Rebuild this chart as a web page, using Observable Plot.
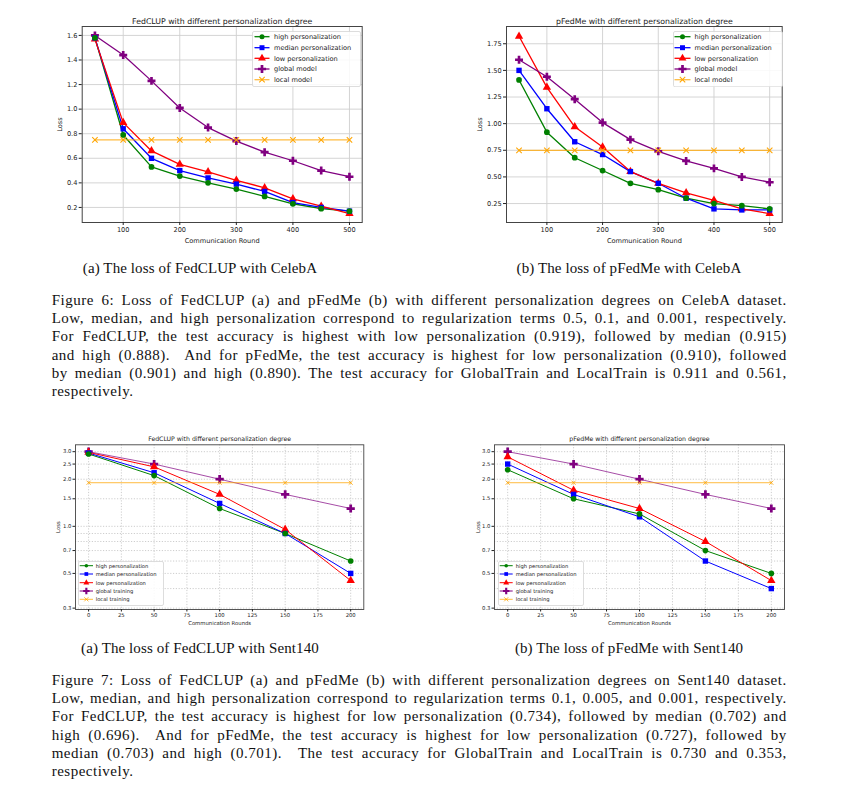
<!DOCTYPE html>
<html><head><meta charset="utf-8">
<script src="https://cdn.jsdelivr.net/npm/d3@7"></script>
<script src="https://cdn.jsdelivr.net/npm/@observablehq/plot@0.6"></script>
<style>
body{margin:0;background:#fff;}
#page{position:relative;width:861px;height:800px;overflow:hidden;background:#fff;}
.chart{position:absolute;}
.cap{position:absolute;left:0;font-family:"Liberation Serif",serif;font-size:15px;line-height:18.3px;color:#111;white-space:pre;}
.legend{position:absolute;}
</style></head><body><div id="page"></div>
<script>
// ---------- data ----------
const roundsCeleb = [50,100,150,200,250,300,350,400,450,500];
const roundsSent = [0,50,100,150,200];

const fedclupCelebHigh   = [1.58,0.79,0.53,0.455,0.40,0.35,0.29,0.23,0.19,0.17];
const fedclupCelebMedian = [1.58,0.84,0.60,0.50,0.44,0.39,0.33,0.24,0.20,0.17];
const fedclupCelebLow    = [1.57,0.89,0.66,0.55,0.49,0.42,0.36,0.27,0.21,0.15];
const fedclupCelebGlobal = [1.60,1.44,1.23,1.01,0.85,0.74,0.65,0.58,0.50,0.45];
const fedclupCelebLocal  = [0.75,0.75,0.75,0.75,0.75,0.75,0.75,0.75,0.75,0.75];

const pfedmeCelebHigh   = [1.41,0.92,0.68,0.56,0.44,0.38,0.30,0.25,0.23,0.20];
const pfedmeCelebMedian = [1.50,1.14,0.83,0.71,0.55,0.44,0.30,0.20,0.19,0.19];
const pfedmeCelebLow    = [1.82,1.34,0.97,0.78,0.55,0.44,0.35,0.28,0.20,0.155];
const pfedmeCelebGlobal = [1.60,1.44,1.23,1.01,0.85,0.74,0.65,0.58,0.50,0.45];
const pfedmeCelebLocal  = [0.75,0.75,0.75,0.75,0.75,0.75,0.75,0.75,0.75,0.75];

const fedclupSentHigh   = [2.90,2.11,1.30,0.90,0.60];
const fedclupSentMedian = [2.94,2.20,1.40,0.90,0.50];
const fedclupSentLow    = [2.97,2.40,1.60,0.955,0.45];
const fedclupSentGlobal = [3.00,2.50,2.00,1.60,1.30];
const fedclupSentLocal  = [1.90,1.90,1.90,1.90,1.90];

const pfedmeSentHigh   = [2.30,1.50,1.20,0.70,0.50];
const pfedmeSentMedian = [2.50,1.60,1.15,0.60,0.40];
const pfedmeSentLow    = [2.78,1.70,1.30,0.80,0.45];
const pfedmeSentGlobal = [3.00,2.50,2.00,1.60,1.30];
const pfedmeSentLocal  = [1.90,1.90,1.90,1.90,1.90];

const celebLabels = ["high personalization","median personalization","low personalization","global model","local model"];
const sentLabels  = ["high personalization","median personalization","low personalization","global training","local training"];
const seriesColors  = ["green","blue","red","purple","orange"];
const seriesSymbols = ["circle","square","triangle","cross","times"];

const celebXTicks = [100,200,300,400,500];
const fedclupCelebYTicks = [0.2,0.4,0.6,0.8,1.0,1.2,1.4,1.6];
const pfedmeCelebYTicks = [0.25,0.5,0.75,1.0,1.25,1.5,1.75];
const sentXTicks = [0,25,50,75,100,125,150,175,200];
const sentYTicks = [0.3,0.5,0.7,1.0,1.5,2.0,2.5,3.0];
const sentYGrid  = [0.3,0.4,0.5,0.6,0.7,0.8,0.9,1.0,1.5,2.0,2.5,3.0];

const chartTitles = ["FedCLUP with different personalization degree","pFedMe with different personalization degree"];

const fig6Sub = ["(a) The loss of FedCLUP with CelebA","(b) The loss of pFedMe with CelebA"];
const fig6Lines = [
 "Figure 6: Loss of FedCLUP (a) and pFedMe (b) with different personalization degrees on CelebA dataset.",
 "Low, median, and high personalization correspond to regularization terms 0.5, 0.1, and 0.001, respectively.",
 "For FedCLUP, the test accuracy is highest with low personalization (0.919), followed by median (0.915)",
 "and high (0.888).  And for pFedMe, the test accuracy is highest for low personalization (0.910), followed",
 "by median (0.901) and high (0.890). The test accuracy for GlobalTrain and LocalTrain is 0.911 and 0.561,",
 "respectively."
];
const fig7Sub = ["(a) The loss of FedCLUP with Sent140","(b) The loss of pFedMe with Sent140"];
const fig7Lines = [
 "Figure 7: Loss of FedCLUP (a) and pFedMe (b) with different personalization degrees on Sent140 dataset.",
 "Low, median, and high personalization correspond to regularization terms 0.1, 0.005, and 0.001, respectively.",
 "For FedCLUP, the test accuracy is highest for low personalization (0.734), followed by median (0.702) and",
 "high (0.696).  And for pFedMe, the test accuracy is highest for low personalization (0.727), followed by",
 "median (0.703) and high (0.701).  The test accuracy for GlobalTrain and LocalTrain is 0.730 and 0.353,",
 "respectively."
];

// ---------- helpers ----------
const page = document.getElementById("page");

function toRows(xs, seriesArr, labels) {
  const rows = [];
  seriesArr.forEach((vals, i) => vals.forEach((v, j) => rows.push({x: xs[j], y: v, s: labels[i]})));
  return rows;
}

function makeChart(cfg) {
  const rows = toRows(cfg.xs, cfg.series, cfg.labels);
  const filled = rows.filter(d => d.s !== cfg.labels[4]);
  const crosses = rows.filter(d => d.s === cfg.labels[4]);
  const dash = cfg.log ? "1.2,1.6" : null;
  const gridColor = cfg.log ? "#b8b8b8" : "#cfcfcf";
  const chart = Plot.plot({
    width: cfg.width, height: cfg.height,
    marginLeft: cfg.ml, marginRight: cfg.mr, marginTop: cfg.mt, marginBottom: cfg.mb,
    style: {fontFamily: "DejaVu Sans", background: "transparent", color: "#222", overflow: "visible"},
    x: {domain: cfg.xDomain},
    y: {type: cfg.log ? "log" : "linear", domain: cfg.yDomain},
    color: {domain: cfg.labels, range: seriesColors},
    symbol: {domain: cfg.labels, range: seriesSymbols},
    marks: [
      Plot.gridX({ticks: cfg.xTicks, stroke: gridColor, strokeOpacity: 1, strokeWidth: cfg.gridW, strokeDasharray: dash}),
      Plot.gridY({ticks: cfg.yGrid, stroke: gridColor, strokeOpacity: 1, strokeWidth: cfg.gridW, strokeDasharray: dash}),
      Plot.line(rows, {x: "x", y: "y", z: "s", stroke: "s", strokeWidth: cfg.lw,
        strokeOpacity: d => d.s === cfg.labels[4] ? 0.75 : (cfg.log && d.s === cfg.labels[3] ? 0.7 : 1)}),
      Plot.dot(filled, {x: "x", y: "y", symbol: "s", fill: "s", r: d => cfg.r[cfg.labels.indexOf(d.s)]}),
      Plot.dot(crosses, {x: "x", y: "y", symbol: "s", stroke: "s", strokeWidth: cfg.lw * 0.8, r: cfg.r[4]}),
      Plot.frame({stroke: "#444", strokeWidth: cfg.frameW}),
      Plot.axisX({ticks: cfg.xTicks, tickFormat: d3.format("d"), tickSize: cfg.tickSize, tickPadding: cfg.tickPad, fontSize: cfg.fs, label: null}),
      Plot.axisY({ticks: cfg.yTicks, tickFormat: d3.format(cfg.yFmt), tickSize: cfg.tickSize, tickPadding: cfg.tickPad, fontSize: cfg.fs, label: null}),
      Plot.text([cfg.title], {text: d => d, frameAnchor: "top", lineAnchor: "middle", dy: cfg.titleDy, fontSize: cfg.tfs, fill: "#222"}),
      Plot.text([cfg.xLabel], {text: d => d, frameAnchor: "bottom", lineAnchor: "middle", dy: cfg.xLabelDy, fontSize: cfg.fs, fill: "#222"}),
      Plot.text(["Loss"], {text: d => d, frameAnchor: "left", lineAnchor: "middle", textAnchor: "middle", dx: cfg.yLabelDx, rotate: -90, fontSize: cfg.fs, fill: "#222"})
    ]
  });
  chart.classList.add("chart");
  chart.style.left = cfg.left + "px";
  chart.style.top = cfg.top + "px";
  page.appendChild(chart);
}

function makeLegend(cfg) {
  const svg = d3.create("svg").attr("class", "legend")
    .attr("width", cfg.w + 1).attr("height", cfg.h + 1)
    .style("left", cfg.left + "px").style("top", cfg.top + "px");
  svg.append("rect").attr("x", 0.5).attr("y", 0.5).attr("width", cfg.w).attr("height", cfg.h)
    .attr("rx", 1.5).attr("fill", "rgba(255,255,255,0.85)").attr("stroke", "#d4d4d4").attr("stroke-width", 0.8);
  const typeMap = {circle: d3.symbolCircle, square: d3.symbolSquare, triangle: d3.symbolTriangle, cross: d3.symbolCross, times: d3.symbolTimes};
  cfg.labels.forEach((lab, i) => {
    const y = cfg.rows[i];
    const g = svg.append("g");
    g.append("line").attr("x1", cfg.sx0).attr("x2", cfg.sx1).attr("y1", y).attr("y2", y)
      .attr("stroke", seriesColors[i]).attr("stroke-width", cfg.lw).attr("stroke-opacity", i === 4 ? 0.75 : 1);
    const size = Math.PI * cfg.r[i] * cfg.r[i];
    const p = g.append("path").attr("d", d3.symbol(typeMap[seriesSymbols[i]], size)())
      .attr("transform", `translate(${(cfg.sx0 + cfg.sx1) / 2},${y})`);
    if (i === 4) p.attr("fill", "none").attr("stroke", seriesColors[i]).attr("stroke-width", cfg.lw * 0.8);
    else p.attr("fill", seriesColors[i]);
    g.append("text").attr("x", cfg.tx).attr("y", y).attr("dy", "0.35em")
      .attr("font-family", "DejaVu Sans").attr("font-size", cfg.fs).attr("fill", "#222").text(lab);
  });
  page.appendChild(svg.node());
}

function addLine(text, x, yCenter, width, align, ls) {
  const el = document.createElement("div");
  el.className = "cap";
  el.textContent = text;
  el.style.top = (yCenter - 9.15) + "px";
  if (ls) el.style.letterSpacing = ls + "px";
  page.appendChild(el);
  const w = el.getBoundingClientRect().width;
  if (align === "justify") {
    const spaces = (text.match(/ /g) || []).length;
    el.style.wordSpacing = ((width - w) / spaces) + "px";
    el.style.left = x + "px";
  } else if (align === "center") {
    el.style.left = (x - w / 2) + "px";
  } else {
    el.style.left = x + "px";
  }
}

// ---------- charts ----------
const topCommon = {width: 0, height: 240, mt: 16, mb: 28, lw: 1.3, r: [2.5, 2.8, 2.9, 3.4, 2.6],
  fs: 6.6, tfs: 7.8, tickSize: 3, tickPad: 1.8, titleDy: -5.5, xLabelDy: 18, gridW: 0.9, frameW: 1,
  xs: roundsCeleb, xDomain: [27.5, 522.5], xTicks: celebXTicks, labels: celebLabels, xLabel: "Communication Round", log: false};

makeChart({...topCommon, left: 30, top: 10, width: 340, ml: 51.7, mr: 8.3,
  series: [fedclupCelebHigh, fedclupCelebMedian, fedclupCelebLow, fedclupCelebGlobal, fedclupCelebLocal],
  yDomain: [0.0775, 1.6725], yTicks: fedclupCelebYTicks, yGrid: fedclupCelebYTicks, yFmt: ".1f",
  title: chartTitles[0], yLabelDx: -22.4});

makeChart({...topCommon, left: 470, top: 10, width: 330, ml: 36, mr: 18.3,
  series: [pfedmeCelebHigh, pfedmeCelebMedian, pfedmeCelebLow, pfedmeCelebGlobal, pfedmeCelebLocal],
  yDomain: [0.072, 1.912], yTicks: pfedmeCelebYTicks, yGrid: pfedmeCelebYTicks, yFmt: ".2f",
  title: chartTitles[1], yLabelDx: -26.7});

const botCommon = {height: 200, mt: 14.3, mb: 21, lw: 1.0, r: [1.8, 2.1, 2.2, 2.7, 2.0],
  fs: 5.3, tfs: 6.2, tickSize: 2.5, tickPad: 1.5, titleDy: -5.3, xLabelDy: 13.3, gridW: 0.7, frameW: 0.9,
  xs: roundsSent, xDomain: [-10, 210], xTicks: sentXTicks, labels: sentLabels, xLabel: "Communication Rounds", log: true,
  yDomain: [0.294, 3.32], yTicks: sentYTicks, yGrid: sentYGrid, yFmt: ".1f"};

makeChart({...botCommon, left: 30, top: 430, width: 340, ml: 45, mr: 6.7,
  series: [fedclupSentHigh, fedclupSentMedian, fedclupSentLow, fedclupSentGlobal, fedclupSentLocal],
  title: chartTitles[0], yLabelDx: -17.7});

makeChart({...botCommon, left: 470, top: 430, width: 320, ml: 24, mr: 6,
  series: [pfedmeSentHigh, pfedmeSentMedian, pfedmeSentLow, pfedmeSentGlobal, pfedmeSentLocal],
  title: chartTitles[1], yLabelDx: -16.7});

// ---------- legends ----------
const topRows = [5.7, 16.7, 27.3, 38, 48.7];
makeLegend({left: 252, top: 31, w: 108, h: 55, rows: topRows, sx0: 2.5, sx1: 17.5, tx: 22, fs: 6.6, lw: 1.3,
  r: [2.5, 2.8, 2.9, 3.4, 2.6], labels: celebLabels});
makeLegend({left: 672.5, top: 30.7, w: 109, h: 55.3, rows: topRows, sx0: 1.5, sx1: 17.5, tx: 21.5, fs: 6.6, lw: 1.3,
  r: [2.5, 2.8, 2.9, 3.4, 2.6], labels: celebLabels});
const botRows = [4.7, 13, 21.7, 30, 38.3];
makeLegend({left: 78.3, top: 561, w: 85, h: 44, rows: botRows, sx0: 1.7, sx1: 15, tx: 17.7, fs: 5.2, lw: 1.0,
  r: [1.8, 2.1, 2.2, 2.7, 2.0], labels: sentLabels});
makeLegend({left: 498.3, top: 561, w: 85, h: 44, rows: botRows, sx0: 1.7, sx1: 14.7, tx: 17.7, fs: 5.2, lw: 1.0,
  r: [1.8, 2.1, 2.2, 2.7, 2.0], labels: sentLabels});

// ---------- captions ----------
const textLeft = 51.7, textWidth = 735, bodyLS = 0.5;
addLine(fig6Sub[0], 200, 268.3, 0, "center", 0.1);
addLine(fig6Sub[1], 629, 268.3, 0, "center", 0.1);
fig6Lines.forEach((t, i) => addLine(t, textLeft, 300 + 18.3 * i, textWidth, i < fig6Lines.length - 1 ? "justify" : "left", bodyLS));
addLine(fig7Sub[0], 200, 648.3, 0, "center", 0.1);
addLine(fig7Sub[1], 629, 648.3, 0, "center", 0.1);
fig7Lines.forEach((t, i) => addLine(t, textLeft, 680 + 18.3 * i, textWidth, i < fig7Lines.length - 1 ? "justify" : "left", bodyLS));
</script>
</body></html>
